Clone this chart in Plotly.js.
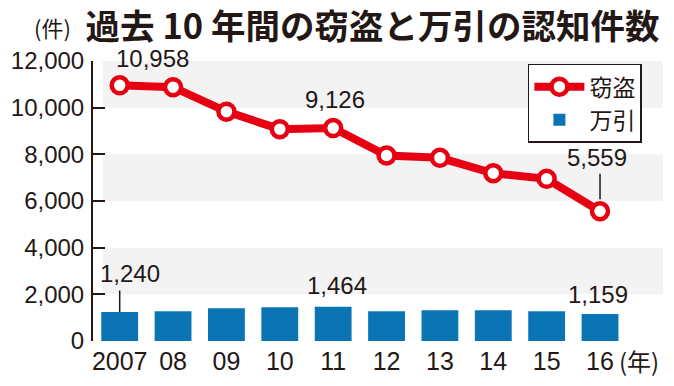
<!DOCTYPE html>
<html>
<head>
<meta charset="utf-8">
<script src="https://cdn.plot.ly/plotly-3.0.1.min.js"></script>
<style>
html,body{margin:0;padding:0;background:#fff;}
#chart{width:674px;height:386px;}
</style>
</head>
<body>
<div id="chart"></div>
<script>
// ---- data ----
const years = ['2007', '08', '09', '10', '11', '12', '13', '14', '15', '16'];
const theft = [10958, 10880, 9830, 9080, 9126, 7950, 7850, 7190, 6950, 5559];
const shoplift = [1240, 1280, 1400, 1450, 1464, 1280, 1320, 1320, 1280, 1159];
const yTicks = [0, 2000, 4000, 6000, 8000, 10000, 12000];
const yTickText = ['0', '2,000', '4,000', '6,000', '8,000', '10,000', '12,000'];
const bands = [[2000, 4000], [6000, 8000], [10000, 12000]];
const seriesNames = ['窃盗', '万引'];
const title = '過去 10 年間の窃盗と万引の認知件数';
const unitY = '(件)';
const unitX = '(年)';

const NUM = 'Liberation Sans, Arial, sans-serif';
const CJK = 'Noto Sans CJK JP, sans-serif';
const INK = '#231815';
const RED = '#e60012';
const BLUE = '#0a74b4';

const fmt = v => v.toLocaleString('en-US');
const idx = years.map((_, i) => i);

const traces = [
  {
    type: 'bar', x: idx, y: shoplift, name: seriesNames[1],
    marker: {color: BLUE}, width: 0.69, hoverinfo: 'skip'
  },
  {
    type: 'scatter', mode: 'lines+markers', x: idx, y: theft, name: seriesNames[0],
    line: {color: RED, width: 8},
    marker: {size: 16, color: '#ffffff', line: {color: RED, width: 4.5}},
    cliponaxis: false, hoverinfo: 'skip'
  }
];

const shapes = bands.map(b => ({
  type: 'rect', layer: 'below', xref: 'paper', yref: 'y',
  x0: 0.0175, x1: 1, y0: b[0], y1: b[1],
  fillcolor: '#f3f3f4', line: {width: 0}
}));

function label(i, vals, xs, ys) {
  return {
    x: idx[i], y: vals[i], xref: 'x', yref: 'y', text: fmt(vals[i]),
    showarrow: false, xshift: xs, yshift: ys, xanchor: 'center', yanchor: 'middle',
    font: {family: NUM, size: 24, color: INK}
  };
}
function leader(i, vals, ay, standoff) {
  return {
    x: idx[i], y: vals[i], xref: 'x', yref: 'y', text: '',
    showarrow: true, arrowhead: 0, arrowwidth: 1.5, arrowcolor: INK,
    axref: 'pixel', ayref: 'pixel', ax: 0, ay: ay, standoff: standoff
  };
}

const annotations = [
  label(0, theft, 33, 27),
  label(4, theft, 2, 29),
  label(9, theft, -3, 54),
  leader(9, theft, -39, 12),
  label(0, shoplift, 10, 39),
  leader(0, shoplift, -23, 0),
  label(4, shoplift, 4, 21),
  label(9, shoplift, -2, 19),
  {
    xref: 'paper', yref: 'paper', x: -0.107, y: 1.12, xanchor: 'left', yanchor: 'middle',
    text: unitY, showarrow: false, font: {family: CJK, size: 22, color: INK}
  },
  {
    xref: 'paper', yref: 'paper', x: 0.92, y: -0.068, xanchor: 'left', yanchor: 'middle',
    text: unitX, showarrow: false, font: {family: CJK, size: 24, color: INK}
  }
];

const layout = {
  width: 674, height: 386,
  margin: {l: 93, r: 11, t: 61, b: 45, pad: 0},
  paper_bgcolor: '#ffffff', plot_bgcolor: 'rgba(0,0,0,0)',
  title: {
    text: '<b>' + title + '</b>',
    xref: 'container', yref: 'container', x: 0.127, xanchor: 'left',
    y: 0.931, yanchor: 'middle',
    font: {family: CJK, size: 34.5, color: INK}
  },
  showlegend: true,
  legend: {
    x: 0.763, y: 0.99, xanchor: 'left', yanchor: 'top',
    bgcolor: '#ffffff', bordercolor: INK, borderwidth: 1.5,
    font: {family: CJK, size: 23, color: INK},
    traceorder: 'reversed', itemwidth: 50, tracegroupgap: 0
  },
  xaxis: {
    range: [-0.5, 10.18], showgrid: false, zeroline: false,
    showline: false, ticks: '', fixedrange: true,
    tickvals: idx, ticktext: years, ticklabelstandoff: 3,
    tickfont: {family: NUM, size: 25, color: INK}
  },
  yaxis: {
    range: [0, 12000], tickvals: yTicks, ticktext: yTickText,
    showgrid: false, zeroline: false, showline: true, linecolor: INK, linewidth: 2,
    ticks: 'inside', ticklen: 12, tickwidth: 2, tickcolor: INK,
    ticklabelstandoff: 2, fixedrange: true,
    tickfont: {family: NUM, size: 24, color: INK}
  },
  shapes: shapes,
  annotations: annotations
};

Plotly.newPlot('chart', traces, layout, {staticPlot: true, displayModeBar: false});
</script>
</body>
</html>
